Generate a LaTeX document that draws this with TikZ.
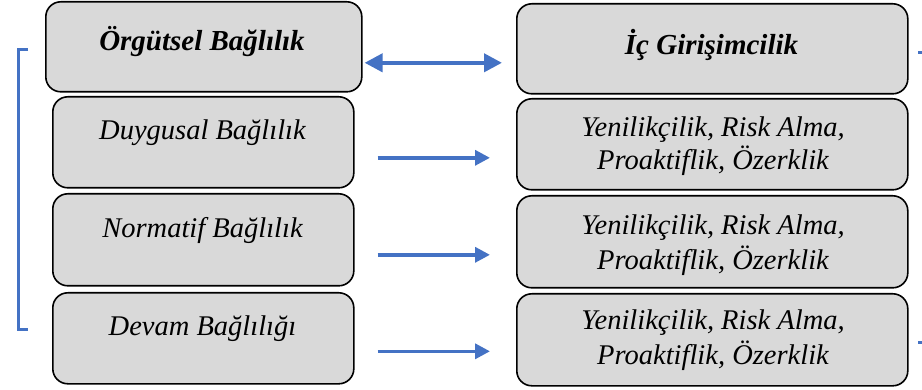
\documentclass[tikz,border=0pt]{standalone}
\usepackage{fontspec}
\setmainfont{Liberation Serif}
\newfontfamily\tnr{Liberation Serif}
\usetikzlibrary{arrows.meta,calc}
\definecolor{boxgray}{HTML}{D9D9D9}
\definecolor{arrblue}{HTML}{4472C4}
\begin{document}
\begin{tikzpicture}[x=1pt,y=-1pt,
  gbox/.style={draw=black,line width=1.6pt,fill=boxgray,rounded corners=15pt,anchor=north west,inner sep=0pt},
  lbl/.style={anchor=base,inner sep=0pt,font=\tnr\fontsize{28.5}{34}\selectfont\itshape},
  ttl/.style={anchor=base,inner sep=0pt,font=\tnr\fontsize{29}{34}\selectfont\bfseries\itshape},
  dblarr/.style={arrblue,line width=4pt,{Triangle[length=18pt,width=18pt]}-{Triangle[length=18pt,width=18pt]}},
  sarr/.style={arrblue,line width=3.5pt,-{Triangle[length=15pt,width=15pt]}},
  brk/.style={arrblue,line width=3pt}]
\useasboundingbox (0,0) rectangle (922,390);
% left boxes
\node[gbox,minimum width=316pt,minimum height=90pt] (L0) at (45,1) {};
\node[gbox,minimum width=301pt,minimum height=91pt] (L1) at (52,96) {};
\node[gbox,minimum width=301pt,minimum height=92pt] (L2) at (52,193) {};
\node[gbox,minimum width=301pt,minimum height=91pt] (L3) at (52,292) {};
% right boxes
\node[gbox,minimum width=391pt,minimum height=90pt] (R0) at (516,3) {};
\node[gbox,minimum width=391pt,minimum height=91pt] (R1) at (516,98) {};
\node[gbox,minimum width=391pt,minimum height=92pt] (R2) at (516,195) {};
\node[gbox,minimum width=391pt,minimum height=92pt] (R3) at (516,293) {};
% texts
\node[ttl] (t0) at (202,51) {Örgütsel Bağlılık};
\node[lbl] (t1) at (202.5,140) {Duygusal Bağlılık};
\node[lbl] (t2) at (202.5,238) {Normatif Bağlılık};
\node[lbl] (t3) at (202.5,336) {Devam Bağlılığı};
\node[ttl] (u0) at (711.5,55) {İç Girişimcilik};
\node[lbl] (u1a) at (713,137) {Yenilikçilik, Risk Alma,};
\node[lbl] (u1b) at (713,170) {Proaktiflik, Özerklik};
\node[lbl] (u2a) at (713,235) {Yenilikçilik, Risk Alma,};
\node[lbl] (u2b) at (713,270) {Proaktiflik, Özerklik};
\node[lbl] (u3a) at (713,330) {Yenilikçilik, Risk Alma,};
\node[lbl] (u3b) at (713,365) {Proaktiflik, Özerklik};
% arrows
\draw[dblarr] ($(L0.east)+(2,16)$) -- ($(R0.west)+(-14,14)$);
\draw[sarr] ($(L1.east)+(23,15.5)$) -- ($(R1.west)+(-26,13.5)$);
\draw[sarr] ($(L2.east)+(23,15)$) -- ($(R2.west)+(-26,13)$);
\draw[sarr] ($(L3.east)+(23,13)$) -- ($(R3.west)+(-26,11.5)$);
% left bracket
\coordinate (b1) at (28,50);
\coordinate (b2) at (18,50);
\coordinate (b3) at (18,330);
\coordinate (b4) at (28,330);
\draw[brk] (b1) -- (b2) -- (b3) -- (b4);
% right bracket ticks (cut off)
\coordinate (c1) at (918,53);
\coordinate (c2) at (923,53);
\coordinate (c3) at (918,343);
\coordinate (c4) at (923,343);
\draw[brk] (c1) -- (c2);
\draw[brk] (c3) -- (c4);
\end{tikzpicture}
\end{document}
